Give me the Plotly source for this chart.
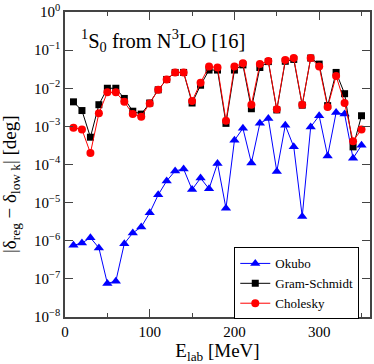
import plotly.graph_objects as go

# Lab energies (MeV) and deviations |delta_reg - delta_lowk| in degrees
energy = [10, 20, 30, 40, 50, 60, 70, 80, 90, 100, 110, 120, 130, 140, 150, 160, 170, 180,
          190, 200, 210, 220, 230, 240, 250, 260, 270, 280, 290, 300, 310, 320, 330, 340, 350]

okubo = [7.6e-7, 8.7e-7, 1.2e-6, 6.5e-7, 7.6e-8, 8.7e-8, 8.4e-7, 1.6e-6, 2.3e-6, 5.4e-6,
         1.6e-5, 3.7e-5, 6.8e-5, 7.6e-5, 2.2e-5, 4.4e-5, 2.3e-5, 1.07e-4,
         7.1e-6, 4.3e-4, 8.9e-4, 1.1e-4, 1.2e-3, 1.6e-3, 6.6e-5, 1.07e-3, 2.9e-4, 4.3e-6,
         9.7e-4, 1.9e-3, 1.67e-4, 2.3e-3, 2.1e-3, 1.45e-4, 3.2e-4]

gram_schmidt = [4.4e-3, 2.6e-3, 5.2e-4, 3.7e-3, 1.0e-2, 1.0e-2, 5.4e-3, 2.5e-3, 2.1e-3, 4.1e-3,
                9.1e-3, 1.7e-2, 2.6e-2, 2.6e-2, 4.1e-3, 1.2e-2, 3.0e-2, 3.0e-2,
                1.2e-3, 3.0e-2, 4.1e-2, 2.9e-3, 3.5e-2, 5.0e-2, 2.7e-3, 5.1e-2, 5.7e-2, 3.6e-3,
                6.2e-2, 4.3e-2, 3.5e-3, 2.6e-2, 7.2e-3, 2.9e-4, 1.9e-3]

cholesky = [9.2e-4, 8.3e-4, 2.0e-4, 2.2e-3, 7.8e-3, 7.8e-3, 4.4e-3, 2.1e-3, 1.8e-3, 4.0e-3,
            9.1e-3, 1.7e-2, 2.6e-2, 2.6e-2, 4.6e-3, 1.4e-2, 3.7e-2, 3.5e-2,
            1.4e-3, 3.7e-2, 4.5e-2, 3.7e-3, 4.3e-2, 5.2e-2, 2.8e-3, 5.5e-2, 6.2e-2, 3.7e-3,
            6.2e-2, 3.7e-2, 3.2e-3, 2.1e-2, 4.1e-3, 4.1e-4, 8.3e-4]

x_ticks = [0, 100, 200, 300]
x_minor_ticks = [50, 150, 250, 350]
y_exponents = [0, -1, -2, -3, -4, -5, -6, -7, -8]
y_tickvals = [10.0 ** e for e in y_exponents]
y_ticktext = ["10<sup>%s</sup>" % (str(e).replace("-", "\u2212")) for e in y_exponents]

FONT = "Liberation Serif"
AXIS_COLOR = "#444444"
TICKFONT = dict(family=FONT, size=15, color="black")

fig = go.Figure()
fig.add_trace(go.Scatter(
    x=energy, y=okubo, name="Okubo", mode="lines+markers",
    line=dict(color="#0000ff", width=1),
    marker=dict(symbol="triangle-up", size=9, color="#0000ff"),
))
fig.add_trace(go.Scatter(
    x=energy, y=gram_schmidt, name="Gram-Schmidt", mode="lines+markers",
    line=dict(color="#000000", width=1),
    marker=dict(symbol="square", size=7, color="#000000"),
))
fig.add_trace(go.Scatter(
    x=energy, y=cholesky, name="Cholesky", mode="lines+markers",
    line=dict(color="#ff0000", width=1),
    marker=dict(symbol="circle", size=8, color="#ff0000"),
))

# panel label
fig.add_annotation(
    x=0.045, y=0.905, xref="paper", yref="paper", xanchor="left", yanchor="middle",
    text="<sup>1</sup>S<sub>0</sub> from N<sup>3</sup>LO [16]", showarrow=False,
    font=dict(family=FONT, size=20.5, color="black"),
)
# y axis title, placed by hand so it sits a bit below the middle like the original
fig.add_annotation(
    x=-0.175, y=0.435, xref="paper", yref="paper", xanchor="center", yanchor="middle",
    text="|\u03b4<sub>reg</sub> \u2212 \u03b4<sub>low k</sub>| [deg]", showarrow=False,
    textangle=-90, font=dict(family=FONT, size=19, color="black"),
)

fig.update_layout(
    width=374, height=364,
    margin=dict(l=65, r=2, t=10, b=47),
    paper_bgcolor="white", plot_bgcolor="white",
    font=dict(family=FONT, size=15, color="black"),
    showlegend=True,
    legend=dict(
        x=0.555, y=0.228, xanchor="left", yanchor="top",
        bgcolor="white", bordercolor="black", borderwidth=1,
        font=dict(family=FONT, size=13, color="black"), tracegroupgap=0,
        itemwidth=30,
    ),
    xaxis=dict(
        range=[0, 360], tickvals=x_ticks, tickfont=TICKFONT,
        ticks="inside", ticklen=8, tickcolor=AXIS_COLOR, mirror="ticks",
        showline=True, linecolor=AXIS_COLOR, linewidth=1.5, showgrid=False, zeroline=False,
        minor=dict(tickvals=x_minor_ticks, ticks="inside", ticklen=4,
                   tickcolor=AXIS_COLOR, showgrid=False),
        title=dict(text="E<sub>lab</sub> [MeV]", font=dict(family=FONT, size=19, color="black"),
                   standoff=2),
    ),
    yaxis=dict(
        type="log", range=[-8, 0], tickvals=y_tickvals, ticktext=y_ticktext, tickfont=TICKFONT,
        ticks="inside", ticklen=8, tickcolor=AXIS_COLOR, mirror="ticks",
        ticklabeloverflow="allow",
        showline=True, linecolor=AXIS_COLOR, linewidth=1.5, showgrid=False, zeroline=False,
    ),
)

# the page body has a default 8px margin; drop it so the figure sits at the corner
fig.write_html("out.html", config={"displayModeBar": False},
               post_script="document.body.style.margin='0px';")
